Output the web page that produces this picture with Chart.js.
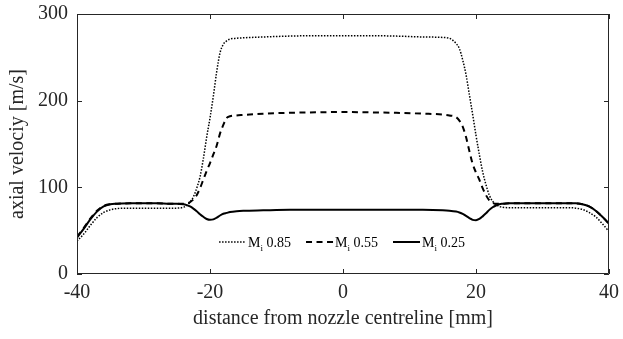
<!DOCTYPE html>
<html>
<head>
<meta charset="utf-8">
<script src="https://cdn.jsdelivr.net/npm/chart.js@4/dist/chart.umd.min.js"></script>
<style>
  html, body { margin: 0; padding: 0; background: #fff; }
  canvas { display: block; }
</style>
</head>
<body>
<canvas id="velocityChart" width="623" height="339"></canvas>
<script>
// distance from nozzle centreline [mm]
var distance = [-40,-39,-38,-37,-36,-35,-34,-32,-30,-28,-26,-25,-24,-23.5,-23,-22.5,-22,-21.5,-21,-20.5,-20,-19.5,-19,-18.5,-18,-17.5,-17,-16,-15,-12,-8,-4,0,4,8,12,15,16,17,17.5,18,18.5,19,19.5,20,20.5,21,21.5,22,22.5,23,23.5,24,25,26,28,30,32,34,35,36,37,38,39,40];

// axial velocity [m/s]
var velocity085 = [38,46,56,65,71,74,75.5,76,76,76,76,76,77,79,83,89,99,112,133,158,180,205,233,255,265,269,271,272,272.5,273.5,274.5,275,275,275,274.5,273.5,273,272,266,260,247,230,207,184,160,138,118,103,91,84,80,78,77,76.5,76.5,76.5,76.5,76.5,76.5,76,74.5,71,66,58,49];
var velocity055 = [43,53,64,73,78.5,80.5,81,81.5,81.5,81.5,81,81,81,81.5,83,86,91,99,109,119,128,138,148,162,172,180,182,183,183.5,185,186,186.5,187,186.5,186,185,184,183,181,177,170,158,142,127,117,109,99,91,85,82,81,81,81,81.5,81.5,81.5,81.5,81.5,81.5,81.5,80.5,78,73,66,58];
var velocity025 = [42,52,63,72,78,80.5,81,81.5,81.5,81.5,81,81,80.5,79.5,78,75.5,72.5,69,66,63.5,62.5,63,65,67.5,69.5,70.5,71.5,72.5,73,73.5,74,74,74,74,74,74,73.5,73,72,71,69.5,67,64.5,62.5,62,63.5,66.5,70,74,77,79,80.5,81,81.5,81.5,81.5,81.5,81.5,81.5,81.5,80.5,78,73,66,58];

var legendNames = ["0.85", "0.55", "0.25"];
var xTicks = [-40, -20, 0, 20, 40];
var yTicks = [0, 100, 200, 300];

var axisColour = "#262626";
var serif = "'Liberation Serif', 'Times New Roman', serif";

function toPoints(xList, yList){
    var pts = [];
    for(var i=0; i<xList.length; i++){
        pts.push({x: xList[i], y: yList[i]});
    }
    return pts;
}

function lineSet(label, yList, width, dash){
    return {
        label: label,
        data: toPoints(distance, yList),
        borderColor: "#000",
        backgroundColor: "#000",
        borderWidth: width,
        borderDash: dash,
        pointRadius: 0,
        fill: false,
        cubicInterpolationMode: "monotone"
    }
}

// frame with inward ticks, matlab style
var framePlugin = {
    id: "frame",
    afterDatasetsDraw: function(chart){
        var ctx = chart.ctx;
        var a = chart.chartArea;
        var xs = chart.scales.x, ys = chart.scales.y;
        var len = 5;
        ctx.save();
        ctx.strokeStyle = axisColour;
        ctx.lineWidth = 1;
        ctx.beginPath();
        ctx.rect(a.left + 0.5, a.top + 0.5, a.right - a.left - 1, a.bottom - a.top - 1);
        for(var i=0; i<xTicks.length; i++){
            var px = Math.round(xs.getPixelForValue(xTicks[i])) + 0.5;
            ctx.moveTo(px, a.bottom); ctx.lineTo(px, a.bottom - len);
            ctx.moveTo(px, a.top); ctx.lineTo(px, a.top + len);
        }
        for(var j=0; j<yTicks.length; j++){
            var py = Math.round(ys.getPixelForValue(yTicks[j])) + 0.5;
            ctx.moveTo(a.left, py); ctx.lineTo(a.left + len, py);
            ctx.moveTo(a.right, py); ctx.lineTo(a.right - len, py);
        }
        ctx.stroke();
        ctx.restore();
    }
};

// legend inside the axes, with subscript i
var subLegendPlugin = {
    id: "subLegend",
    afterDraw: function(chart){
        var ctx = chart.ctx;
        var a = chart.chartArea;
        var sample = 27, gapText = 2, itemGap = 15;
        var big = "14px " + serif, small = "9px " + serif;
        ctx.save();
        var widths = [];
        var total = 0;
        for(var i=0; i<chart.data.datasets.length; i++){
            ctx.font = big;
            var wM = ctx.measureText("M").width;
            var wV = ctx.measureText(" " + legendNames[i]).width;
            ctx.font = small;
            var wI = ctx.measureText("i").width;
            widths.push([wM, wI, wV]);
            total += sample + gapText + wM + wI + wV;
        }
        total += itemGap * (chart.data.datasets.length - 1);
        var x = (a.left + a.right) / 2 - total / 2 - 1;
        var y = a.bottom - 32;
        for(var k=0; k<chart.data.datasets.length; k++){
            var ds = chart.data.datasets[k];
            ctx.strokeStyle = "#000";
            ctx.lineWidth = ds.borderWidth;
            ctx.setLineDash(ds.borderDash || []);
            ctx.beginPath();
            ctx.moveTo(x, y);
            ctx.lineTo(x + sample, y);
            ctx.stroke();
            ctx.setLineDash([]);
            x += sample + gapText;
            ctx.fillStyle = "#000";
            ctx.textBaseline = "alphabetic";
            ctx.font = big;
            ctx.fillText("M", x, y + 5);
            x += widths[k][0];
            ctx.font = small;
            ctx.fillText("i", x, y + 9);
            x += widths[k][1];
            ctx.font = big;
            ctx.fillText(" " + legendNames[k], x, y + 5);
            x += widths[k][2] + itemGap;
        }
        ctx.restore();
    }
};

var velocityChart = new Chart("velocityChart", {
    type: "line",
    data: {
        datasets: [
            lineSet("Mi 0.85", velocity085, 1.5, [1.5, 1.5]),
            lineSet("Mi 0.55", velocity055, 2, [6, 4.5]),
            lineSet("Mi 0.25", velocity025, 2, [])
        ]
    },
    options: {
        responsive: false,
        devicePixelRatio: 1,
        animation: false,
        layout: {
            padding: {top: 14, right: 14, left: 0, bottom: 0}
        },
        plugins: {
            legend: {display: false},
            tooltip: {enabled: false}
        },
        scales: {
            x: {
                type: "linear",
                min: -40,
                max: 40,
                afterFit: function(scale){
                    scale.height = 65;
                    scale.paddingLeft = 0;
                    scale.paddingRight = 0;
                },
                afterBuildTicks: function(scale){
                    scale.ticks = xTicks.map(function(v){ return {value: v}; });
                },
                grid: {display: false, drawTicks: false},
                border: {display: false},
                ticks: {
                    color: axisColour,
                    padding: 7,
                    maxRotation: 0,
                    font: {family: serif, size: 20}
                },
                title: {
                    display: true,
                    text: "distance from nozzle centreline [mm]",
                    color: axisColour,
                    font: {family: serif, size: 20},
                    padding: {top: 0, bottom: 8}
                }
            },
            y: {
                type: "linear",
                min: 0,
                max: 300,
                afterFit: function(scale){
                    scale.width = 77;
                    scale.paddingTop = 0;
                    scale.paddingBottom = 0;
                },
                afterBuildTicks: function(scale){
                    scale.ticks = yTicks.map(function(v){ return {value: v}; });
                },
                grid: {display: false, drawTicks: false},
                border: {display: false},
                ticks: {
                    color: axisColour,
                    padding: 9,
                    font: {family: serif, size: 20}
                },
                title: {
                    display: true,
                    text: "axial velociy [m/s]",
                    color: axisColour,
                    font: {family: serif, size: 20},
                    padding: {top: 6, bottom: 0}
                }
            }
        }
    },
    plugins: [framePlugin, subLegendPlugin]
});
</script>
</body>
</html>
